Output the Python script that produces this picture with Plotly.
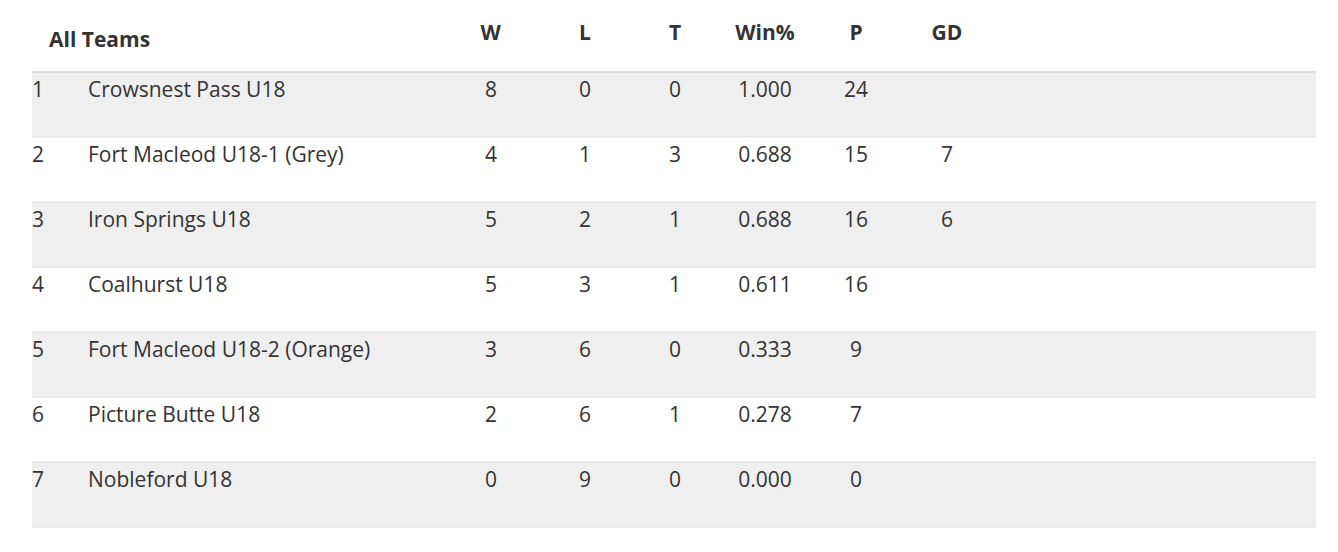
import plotly.graph_objects as go

ranks = ["1", "2", "3", "4", "5", "6", "7"]
teams = ["Crowsnest Pass U18", "Fort Macleod U18-1 (Grey)", "Iron Springs U18", "Coalhurst U18",
         "Fort Macleod U18-2 (Orange)", "Picture Butte U18", "Nobleford U18"]
wins = [8, 4, 5, 5, 3, 2, 0]
losses = [0, 1, 2, 3, 6, 6, 9]
ties = [0, 3, 1, 1, 0, 1, 0]
winpct = ["1.000", "0.688", "0.688", "0.611", "0.333", "0.278", "0.000"]
points = [24, 15, 16, 16, 9, 7, 0]
gd = ["", "7", "6", "", "", "", ""]
title = "All Teams"
headers = ["", "", "W", "L", "T", "Win%", "P", "GD", ""]

W, H = 1338, 552
x0, x1 = 24, 1308
off = 8
widths = [56, 362, 98, 90, 90, 90, 92, 90, 316]
nrows = len(teams)
clear = "rgba(0,0,0,0)"
font = "Open Sans"
fig = go.Figure(go.Table(
    domain=dict(x=[(x0 - off) / W, (x1 - off) / W], y=[0, 1 - 1.5 / H]),
    columnwidth=widths,
    header=dict(values=[f"<b>{h}</b>" if h else "" for h in headers],
                fill_color=clear, line_width=0, height=64,
                align=["left", "left"] + ["center"] * 7,
                font=dict(family=font, size=21, color="#333333")),
    cells=dict(values=[ranks, teams, wins, losses, ties, winpct, points, gd, [""] * nrows],
               fill_color=clear, line_width=0, height=65,
               align=["left", "left"] + ["center"] * 7,
               font=dict(family=font, size=21, color="#333333")),
))
shapes = []
for i in range(nrows):
    top = 64 + 65 * i
    shapes.append(dict(type="rect", xref="paper", yref="paper", layer="below",
                       x0=x0 / W, x1=x1 / W, y0=1 - (top + 65) / H, y1=1 - top / H,
                       fillcolor="#efefef" if i % 2 == 0 else "#ffffff", line_width=0))
shapes.append(dict(type="line", xref="paper", yref="paper", x0=x0 / W, x1=x1 / W,
                   y0=1 - 64 / H, y1=1 - 64 / H, line=dict(color="#dddddd", width=2)))
for i in range(1, nrows + 1):
    y = 1 - (64 + 65 * i) / H
    shapes.append(dict(type="line", xref="paper", yref="paper", x0=x0 / W, x1=x1 / W,
                       y0=y, y1=y, line=dict(color="#dddddd", width=1)))
fig.update_layout(width=W, height=H, margin=dict(l=0, r=0, t=0, b=0),
                  paper_bgcolor="#ffffff", shapes=shapes,
                  annotations=[dict(text=f"<b>{title}</b>", xref="paper", yref="paper",
                                    x=39 / W, y=1 - 31 / H, xanchor="left", yanchor="middle",
                                    showarrow=False,
                                    font=dict(family=font, size=21, color="#333333"))])
fig.write_html("out.html")
